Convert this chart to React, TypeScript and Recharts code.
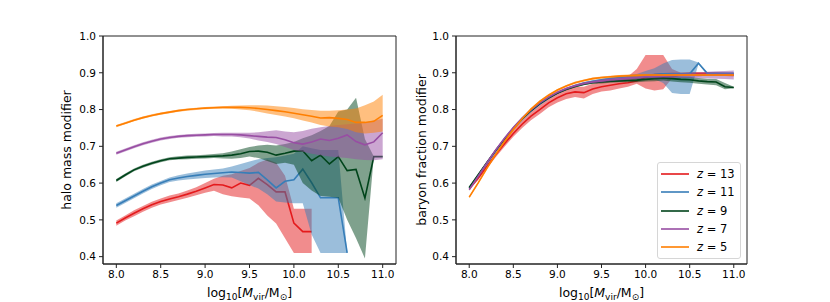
import React from "react";
import { ComposedChart, Line, Area, XAxis, YAxis, Legend, ReferenceArea } from "recharts";

const FONT = "'DejaVu Sans', sans-serif";

const massBins = [
  8.0, 8.1, 8.2, 8.3, 8.4, 8.5, 8.6, 8.7, 8.8, 8.9, 9.0, 9.1, 9.2, 9.3, 9.4, 9.5,
  9.6, 9.7, 9.8, 9.9, 10.0, 10.1, 10.2, 10.3, 10.4, 10.5, 10.6, 10.7, 10.8, 10.9, 11.0,
];
const xTicks = [8.0, 8.5, 9.0, 9.5, 10.0, 10.5, 11.0];
const yTicks = [0.4, 0.5, 0.6, 0.7, 0.8, 0.9, 1.0];
const redshifts = ["13", "11", "9", "7", "5"];
const colors = ["#e41a1c", "#377eb8", "#00441b", "#984ea3", "#ff7f00"];

// halo mass modifier (left)
const haloZ13 = [.491, .505, .518, .530, .541, .550, .557, .563, .570, .578, .587, .596, .595, .587, .600, .594, .613, .596, .576, .576, .491, .468, .468];
const haloZ13Hi = [.498, .512, .526, .538, .549, .558, .566, .572, .580, .589, .600, .612, .620, .624, .633, .641, .655, .664, .655, .620, .530, .530, .530];
const haloZ13Lo = [.484, .498, .510, .522, .533, .542, .548, .554, .560, .567, .574, .579, .570, .564, .561, .558, .540, .512, .490, .450, .410, .410, .410];

const haloZ11 = [.539, .552, .565, .578, .590, .600, .609, .614, .618, .621, .624, .626, .628, .630, .629, .627, .629, .609, .587, .605, .609, .638, .601, .560, .560, .560, .410];
const haloZ11Hi = [.545, .558, .571, .584, .596, .606, .615, .621, .626, .630, .634, .637, .640, .645, .652, .659, .665, .668, .670, .675, .680, .700, .695, .690, .690, .690, .410];
const haloZ11Lo = [.533, .546, .559, .572, .584, .594, .603, .607, .610, .612, .614, .615, .616, .615, .605, .595, .585, .570, .550, .547, .545, .545, .460, .410, .410, .410, .410];

const haloZ9 = [.607, .622, .636, .646, .654, .661, .666, .668, .670, .671, .672, .673, .674, .676, .680, .686, .687, .684, .676, .681, .687, .688, .661, .676, .652, .672, .634, .637, .559, .672, .672];
const haloZ9Hi = [.611, .626, .640, .650, .658, .665, .670, .673, .675, .676, .677, .679, .681, .686, .692, .698, .702, .704, .702, .706, .712, .722, .730, .742, .755, .795, .800, .832, .720, .672, .672];
const haloZ9Lo = [.603, .618, .632, .642, .650, .657, .662, .664, .665, .666, .667, .668, .667, .666, .668, .672, .668, .660, .652, .655, .650, .600, .580, .565, .563, .560, .500, .450, .395, .672, .672];

const haloZ7 = [.681, .690, .699, .707, .714, .720, .724, .727, .729, .730, .731, .732, .732, .732, .731, .729, .727, .725, .724, .718, .710, .706, .712, .720, .716, .722, .731, .713, .704, .712, .737];
const haloZ7Hi = [.685, .694, .703, .711, .718, .724, .728, .731, .733, .734, .735, .736, .737, .737, .737, .737, .738, .741, .744, .740, .738, .742, .748, .752, .755, .758, .760, .762, .765, .770, .775];
const haloZ7Lo = [.677, .686, .695, .703, .710, .716, .720, .723, .725, .726, .727, .728, .727, .727, .725, .721, .716, .712, .706, .698, .690, .685, .680, .676, .672, .670, .668, .665, .663, .662, .665];

const haloZ5 = [.755, .763, .771, .778, .784, .789, .793, .797, .800, .802, .804, .805, .806, .806, .806, .805, .803, .800, .797, .794, .790, .786, .782, .777, .778, .776, .773, .765, .765, .768, .784];
const haloZ5Hi = [.758, .766, .774, .781, .787, .792, .796, .800, .803, .805, .807, .808, .809, .810, .811, .812, .812, .811, .809, .807, .804, .801, .799, .797, .797, .798, .800, .803, .812, .822, .840];
const haloZ5Lo = [.752, .760, .768, .775, .781, .786, .790, .794, .797, .799, .801, .802, .803, .802, .800, .798, .794, .789, .785, .781, .776, .770, .765, .758, .754, .752, .747, .738, .735, .737, .740];

// baryon fraction modifier (right)
const baryonZ13 = [.585, .613, .645, .677, .707, .735, .760, .782, .800, .818, .832, .843, .848, .846, .856, .862, .866, .870, .873, .878, .888, .895, .897, .898, .898, .898, .898, .898, .897, .896, .895];
const baryonZ13Hi = [.589, .618, .651, .684, .715, .744, .770, .793, .812, .830, .845, .857, .862, .862, .870, .875, .880, .885, .890, .910, .948, .948, .948, .910, .900, .902, .902, .902, .902, .901, .900];
const baryonZ13Lo = [.581, .608, .639, .670, .699, .726, .750, .771, .788, .806, .819, .829, .834, .830, .842, .849, .852, .857, .862, .870, .857, .852, .855, .885, .893, .894, .894, .894, .892, .891, .890];

const baryonZ11 = [.586, .620, .654, .687, .718, .747, .773, .796, .815, .831, .845, .856, .865, .872, .877, .881, .884, .887, .889, .891, .893, .895, .897, .897, .897, .897, .926, .898, .898, .898, .898];
const baryonZ11Hi = [.589, .623, .657, .690, .721, .750, .776, .799, .818, .834, .848, .859, .868, .875, .880, .884, .888, .891, .894, .897, .905, .912, .925, .935, .936, .936, .928, .902, .902, .902, .902];
const baryonZ11Lo = [.583, .617, .651, .684, .715, .744, .770, .793, .812, .828, .842, .853, .862, .869, .874, .878, .880, .882, .883, .884, .885, .883, .872, .845, .842, .842, .924, .894, .894, .894, .894];

const baryonZ9 = [.588, .622, .656, .689, .720, .749, .775, .797, .816, .832, .845, .855, .863, .869, .873, .875, .877, .878, .879, .880, .882, .884, .886, .884, .882, .881, .878, .876, .875, .862, .860];
const baryonZ9Hi = [.591, .625, .659, .692, .723, .752, .778, .800, .819, .835, .848, .858, .866, .872, .876, .879, .881, .882, .884, .886, .888, .891, .893, .892, .890, .889, .886, .884, .883, .872, .862];
const baryonZ9Lo = [.585, .619, .653, .686, .717, .746, .772, .794, .813, .829, .842, .852, .860, .866, .870, .871, .873, .874, .874, .874, .876, .877, .879, .876, .874, .873, .870, .868, .866, .855, .858];

const baryonZ7 = [.582, .618, .655, .690, .722, .751, .777, .799, .818, .834, .847, .857, .865, .871, .875, .878, .881, .883, .885, .887, .889, .890, .891, .892, .893, .893, .893, .894, .894, .894, .894];
const baryonZ7Hi = [.585, .621, .658, .693, .725, .754, .780, .802, .821, .837, .850, .860, .868, .874, .878, .882, .885, .887, .889, .891, .893, .895, .897, .898, .899, .900, .901, .903, .904, .905, .906];
const baryonZ7Lo = [.579, .615, .652, .687, .719, .748, .774, .796, .815, .831, .844, .854, .862, .868, .872, .874, .877, .879, .881, .883, .885, .885, .885, .886, .886, .886, .885, .885, .884, .883, .882];

const baryonZ5 = [.562, .600, .640, .678, .713, .746, .775, .801, .822, .839, .853, .864, .873, .879, .884, .887, .889, .891, .892, .893, .894, .894, .894, .894, .894, .894, .894, .894, .894, .894, .894];
const baryonZ5Hi = [.565, .603, .643, .681, .716, .749, .778, .804, .825, .842, .856, .867, .876, .882, .887, .890, .892, .894, .895, .896, .897, .897, .897, .897, .897, .897, .897, .897, .897, .897, .897];
const baryonZ5Lo = [.559, .597, .637, .675, .710, .743, .772, .798, .819, .836, .850, .861, .870, .876, .881, .884, .886, .888, .889, .890, .891, .891, .891, .891, .891, .891, .891, .891, .891, .891, .891];

type Series = { mid: number[]; lo: number[]; hi: number[] };

const haloSeries: Series[] = [
  { mid: haloZ13, lo: haloZ13Lo, hi: haloZ13Hi },
  { mid: haloZ11, lo: haloZ11Lo, hi: haloZ11Hi },
  { mid: haloZ9, lo: haloZ9Lo, hi: haloZ9Hi },
  { mid: haloZ7, lo: haloZ7Lo, hi: haloZ7Hi },
  { mid: haloZ5, lo: haloZ5Lo, hi: haloZ5Hi },
];
const baryonSeries: Series[] = [
  { mid: baryonZ13, lo: baryonZ13Lo, hi: baryonZ13Hi },
  { mid: baryonZ11, lo: baryonZ11Lo, hi: baryonZ11Hi },
  { mid: baryonZ9, lo: baryonZ9Lo, hi: baryonZ9Hi },
  { mid: baryonZ7, lo: baryonZ7Lo, hi: baryonZ7Hi },
  { mid: baryonZ5, lo: baryonZ5Lo, hi: baryonZ5Hi },
];

function buildRows(series: Series[]) {
  return massBins.map((x, i) => {
    const row: Record<string, any> = { x };
    series.forEach((s, k) => {
      const m = s.mid[i];
      row[`m${k}`] = m === undefined ? null : m;
      row[`b${k}`] = m === undefined ? null : [s.lo[i], s.hi[i]];
    });
    return row;
  });
}

const haloRows = buildRows(haloSeries);
const baryonRows = buildRows(baryonSeries);

const AXIS = "#222";
const X_DOMAIN = [7.85, 11.15];
const Y_DOMAIN = [0.38, 1.0];
const tickStyle = { fontSize: 10.5, fill: "#000", fontFamily: FONT };

function XLabel({ viewBox }: any) {
  const cx = viewBox.x + viewBox.width / 2;
  const y = viewBox.y + 33;
  return (
    <text x={cx} y={y} textAnchor="middle" fontFamily={FONT} fontSize={12.5} fill="#000">
      log
      <tspan fontSize={9} dy={3}>10</tspan>
      <tspan dy={-3}>[</tspan>
      <tspan fontStyle="italic">M</tspan>
      <tspan fontSize={9} dy={3}>vir</tspan>
      <tspan dy={-3}>/M</tspan>
      <tspan fontSize={9} dy={3}>⊙</tspan>
      <tspan dy={-3}>]</tspan>
    </text>
  );
}

function YLabel({ viewBox, text, dx }: any) {
  const cx = viewBox.x + dx;
  const cy = viewBox.y + viewBox.height / 2;
  return (
    <text
      x={cx}
      y={cy}
      transform={`rotate(-90 ${cx} ${cy})`}
      textAnchor="middle"
      dominantBaseline="central"
      fontFamily={FONT}
      fontSize={12.5}
      fill="#000"
    >
      {text}
    </text>
  );
}

const renderLegend = () => (
  <div
    style={{
      border: "1px solid #d6d6d6",
      borderRadius: 3,
      background: "rgba(255,255,255,0.85)",
      padding: "2px 4px 2px 3px",
      fontFamily: FONT,
      fontSize: 11.5,
      color: "#000",
      boxSizing: "border-box",
      width: 84,
    }}
  >
    {redshifts.map((z, k) => (
      <div key={z} style={{ display: "flex", alignItems: "center", height: 18.3 }}>
        <svg width={28} height={4} style={{ display: "block" }}>
          <line x1={0} y1={2} x2={28} y2={2} stroke={colors[k]} strokeWidth={1.6} />
        </svg>
        <span style={{ marginLeft: 8, whiteSpace: "nowrap" }}>
          <i>z</i> = {z}
        </span>
      </div>
    ))}
  </div>
);

type PanelProps = {
  rows: Record<string, any>[];
  yLabel: string;
  labelDx: number;
  marginLeft: number;
  marginRight: number;
  yAxisWidth: number;
  showLegend?: boolean;
};

function Panel({ rows, yLabel, labelDx, marginLeft, marginRight, yAxisWidth, showLegend }: PanelProps) {
  return (
    <ComposedChart
      width={415}
      height={302}
      data={rows}
      margin={{ top: 36, right: marginRight, bottom: 8, left: marginLeft }}
    >
      <XAxis
        dataKey="x"
        type="number"
        domain={X_DOMAIN}
        ticks={xTicks}
        tickFormatter={(v: number) => v.toFixed(1)}
        allowDataOverflow
        height={30}
        tick={tickStyle}
        tickSize={4}
        tickMargin={3}
        axisLine={{ stroke: AXIS }}
        tickLine={{ stroke: AXIS }}
        label={(p: any) => <XLabel {...p} />}
      />
      <YAxis
        type="number"
        domain={Y_DOMAIN}
        ticks={yTicks}
        tickFormatter={(v: number) => v.toFixed(1)}
        allowDataOverflow
        width={yAxisWidth}
        tick={tickStyle}
        tickSize={4}
        tickMargin={3}
        axisLine={{ stroke: AXIS }}
        tickLine={{ stroke: AXIS }}
        label={(p: any) => <YLabel {...p} text={yLabel} dx={labelDx} />}
      />
      {/* band then line per redshift, later ones drawn on top */}
      {colors.map((c, k) => [
        <Area
          key={`a${k}`}
          dataKey={`b${k}`}
          type="linear"
          fill={c}
          fillOpacity={0.5}
          stroke="none"
          dot={false}
          activeDot={false}
          zIndex={101 + 2 * k}
          isAnimationActive={false}
        />,
        <Line
          key={`l${k}`}
          dataKey={`m${k}`}
          type="linear"
          stroke={c}
          strokeWidth={1.6}
          dot={false}
          activeDot={false}
          zIndex={102 + 2 * k}
          isAnimationActive={false}
        />,
      ])}
      {/* axes frame */}
      <ReferenceArea
        x1={X_DOMAIN[0]}
        x2={X_DOMAIN[1]}
        y1={Y_DOMAIN[0]}
        y2={Y_DOMAIN[1]}
        fill="none"
        fillOpacity={0}
        stroke={AXIS}
        strokeWidth={1}
        ifOverflow="visible"
      />
      {showLegend && (
        <Legend
          layout="vertical"
          align="center"
          verticalAlign="middle"
          content={renderLegend}
          wrapperStyle={{ left: 242, top: 162, width: 84, height: 96 }}
        />
      )}
    </ComposedChart>
  );
}

export default function App() {
  return (
    <div style={{ position: "absolute", left: 0, top: 0, width: 830, height: 302, background: "#fff" }}>
      <div style={{ position: "absolute", left: 0, top: 0 }}>
        <Panel
          rows={haloRows}
          yLabel="halo mass modifier"
          labelDx={23}
          marginLeft={43}
          marginRight={19}
          yAxisWidth={60}
        />
      </div>
      <div style={{ position: "absolute", left: 415, top: 0 }}>
        <Panel
          rows={baryonRows}
          yLabel="baryon fraction modifier"
          labelDx={5}
          marginLeft={1}
          marginRight={83}
          yAxisWidth={40}
          showLegend
        />
      </div>
    </div>
  );
}
